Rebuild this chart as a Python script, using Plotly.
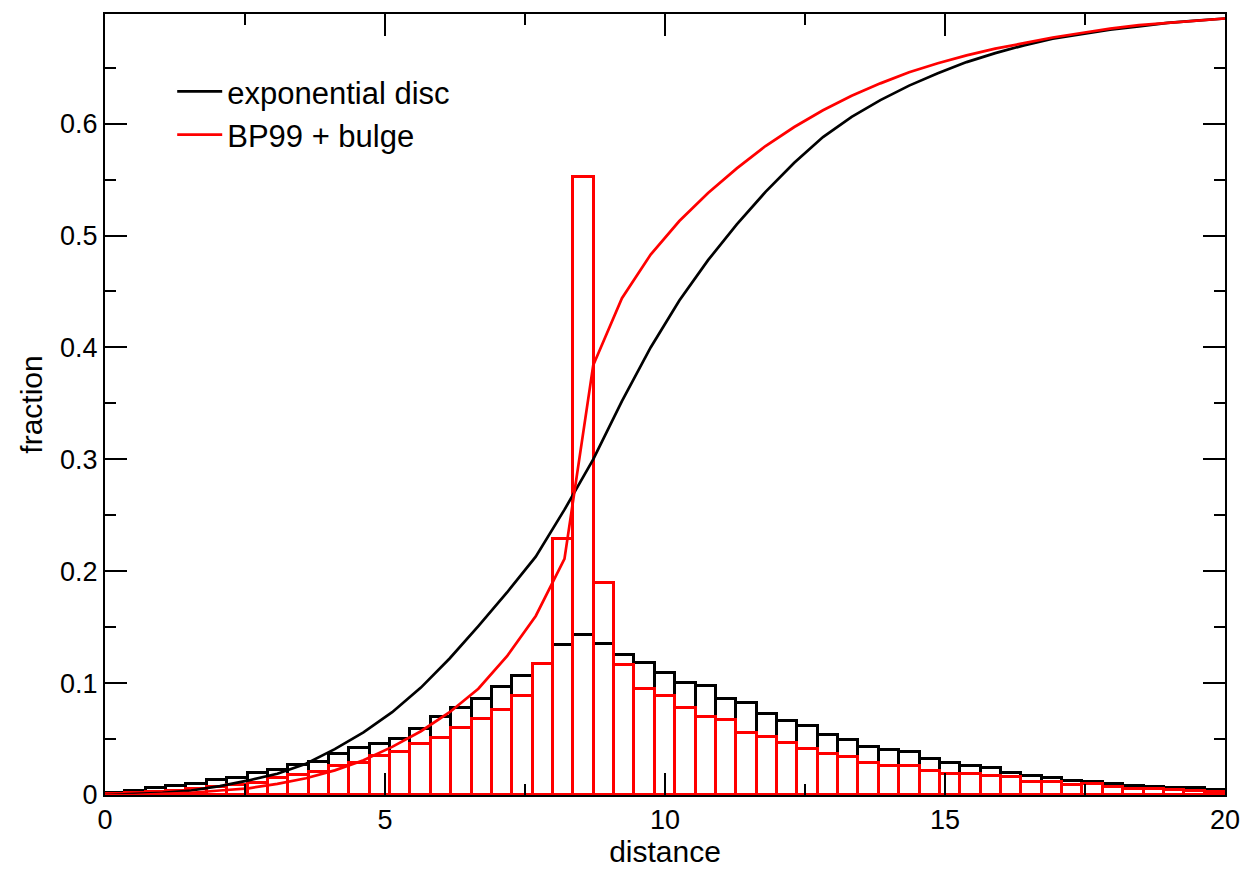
import plotly.graph_objects as go

# ---------------- data ----------------
x_min, x_max = 0.0, 20.0
n_bins = 55

hist_exp_disc = [
    0.002, 0.004, 0.006, 0.008, 0.0095, 0.0137, 0.015, 0.020, 0.022, 0.027,
    0.0297, 0.0366, 0.0416, 0.046, 0.0499, 0.0588, 0.0701, 0.0782, 0.0856, 0.0969,
    0.1064, 0.1174, 0.1343, 0.1426, 0.1352, 0.1248, 0.1177, 0.1094, 0.0999, 0.0978,
    0.0859, 0.0826, 0.0722, 0.0663, 0.0618, 0.0538, 0.0493, 0.0425, 0.0404, 0.0381,
    0.0321, 0.0282, 0.0256, 0.0244, 0.0199, 0.0166, 0.0152, 0.0125, 0.0116, 0.0095,
    0.008, 0.0074, 0.0062, 0.0059, 0.0045,
]
hist_bp99 = [
    0.001, 0.002, 0.003, 0.004, 0.005, 0.007, 0.009, 0.011, 0.015, 0.0175,
    0.021, 0.0256, 0.0285, 0.0345, 0.038, 0.0455, 0.0505, 0.0603, 0.0683, 0.0761,
    0.0886, 0.1168, 0.229, 0.552, 0.1896, 0.1165, 0.0951, 0.0886, 0.0782, 0.0701,
    0.0666, 0.0553, 0.0517, 0.0464, 0.0410, 0.0368, 0.0339, 0.0288, 0.0263, 0.026,
    0.0212, 0.019, 0.0184, 0.0166, 0.0158, 0.0119, 0.0115, 0.0086, 0.0101, 0.0074,
    0.0056, 0.005, 0.0042, 0.0039, 0.003,
]

curve_x = [
    0.000, 0.513, 1.026, 1.538, 2.051, 2.564, 3.077, 3.590, 4.103, 4.615,
    5.128, 5.641, 6.154, 6.667, 7.179, 7.692, 8.205, 8.718, 9.231, 9.744,
    10.256, 10.769, 11.282, 11.795, 12.308, 12.821, 13.333, 13.846, 14.359, 14.872,
    15.385, 15.897, 16.410, 16.923, 17.436, 17.949, 18.462, 18.974, 19.487, 20.000,
]
cum_exp_disc = [
    0.000, 0.001, 0.002, 0.004, 0.008, 0.013, 0.019, 0.028, 0.041, 0.056,
    0.074, 0.096, 0.122, 0.151, 0.181, 0.213, 0.255, 0.300, 0.352, 0.400,
    0.442, 0.478, 0.510, 0.539, 0.565, 0.588, 0.606, 0.621, 0.634, 0.645,
    0.655, 0.663, 0.670, 0.676, 0.680, 0.684, 0.687, 0.690, 0.692, 0.694,
]
cum_bp99 = [
    0.000, 0.000, 0.001, 0.002, 0.004, 0.006, 0.010, 0.015, 0.022, 0.031,
    0.043, 0.057, 0.074, 0.095, 0.124, 0.160, 0.211, 0.384, 0.444, 0.483,
    0.513, 0.538, 0.560, 0.580, 0.597, 0.612, 0.625, 0.636, 0.646, 0.654,
    0.661, 0.667, 0.672, 0.677, 0.681, 0.685, 0.688, 0.690, 0.692, 0.694,
]

series_names = ["exponential disc", "BP99 + bulge"]
x_tick_vals = [0, 5, 10, 15, 20]
y_tick_vals = [0, 0.1, 0.2, 0.3, 0.4, 0.5, 0.6]
y_tick_text = ["0", "0.1", "0.2", "0.3", "0.4", "0.5", "0.6"]

# ---------------- figure ----------------
bin_w = (x_max - x_min) / n_bins
centers = [x_min + (i + 0.5) * bin_w for i in range(n_bins)]

FONT = "Liberation Sans, Arial, Helvetica, sans-serif"

fig = go.Figure()
fig.add_trace(go.Bar(
    x=centers, y=hist_exp_disc, width=bin_w, showlegend=False,
    marker=dict(color="rgba(0,0,0,0)", line=dict(color="black", width=3)),
    hoverinfo="skip",
))
fig.add_trace(go.Bar(
    x=centers, y=hist_bp99, width=bin_w, showlegend=False,
    marker=dict(color="rgba(0,0,0,0)", line=dict(color="red", width=3)),
    hoverinfo="skip",
))
fig.add_trace(go.Scatter(
    x=curve_x, y=cum_exp_disc, mode="lines", name=series_names[0],
    line=dict(color="black", width=2.7),
))
fig.add_trace(go.Scatter(
    x=curve_x, y=cum_bp99, mode="lines", name=series_names[1],
    line=dict(color="red", width=2.7),
))

axis_common = dict(
    showline=True, linecolor="black", linewidth=2, mirror="allticks",
    ticks="inside", ticklen=22, tickwidth=2, tickcolor="black",
    showgrid=False, zeroline=False,
    tickfont=dict(family=FONT, size=27, color="black"),
)

fig.update_xaxes(
    range=[x_min, x_max], tickmode="array", tickvals=x_tick_vals,
    minor=dict(ticks="inside", ticklen=11, tickwidth=2, tickcolor="black", dtick=2.5, showgrid=False),
    title=dict(text="distance", font=dict(family=FONT, size=30, color="black"), standoff=7),
    **axis_common,
)
fig.update_yaxes(
    range=[0, 0.698], tickmode="array", tickvals=y_tick_vals, ticktext=y_tick_text,
    minor=dict(ticks="inside", ticklen=11, tickwidth=2, tickcolor="black", dtick=0.05, showgrid=False),
    title=dict(text="fraction", font=dict(family=FONT, size=30, color="black"), standoff=9),
    **axis_common,
)

fig.update_layout(
    width=1252, height=875,
    margin=dict(l=105, r=24, t=12, b=79, pad=0),
    plot_bgcolor="white", paper_bgcolor="white",
    barmode="overlay", bargap=0,
    font=dict(family=FONT, color="black"),
    legend=dict(
        x=0.06, y=0.935, xanchor="left", yanchor="top",
        bgcolor="rgba(0,0,0,0)", borderwidth=0,
        font=dict(family=FONT, size=31, color="black"),
        itemwidth=45, tracegroupgap=0,
    ),
)

fig.write_html("out.html")
